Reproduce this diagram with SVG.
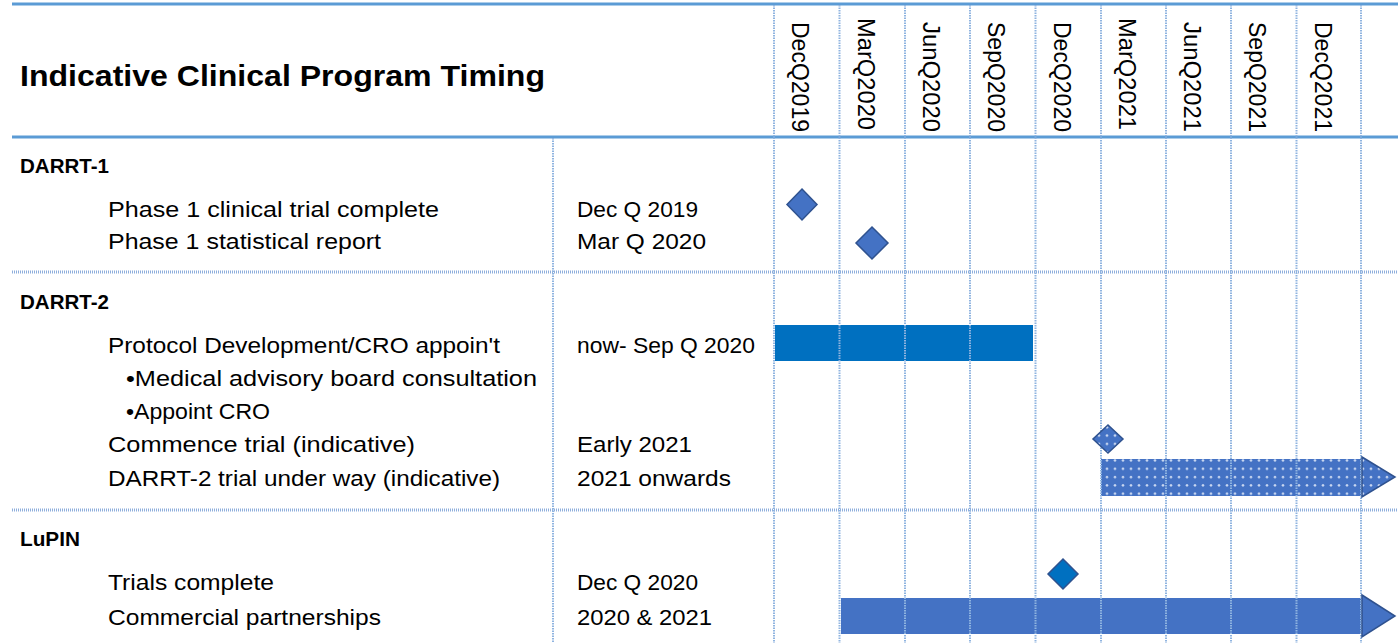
<svg xmlns="http://www.w3.org/2000/svg" width="1398" height="643" viewBox="0 0 1398 643">
<defs>
<style>
.t{font-family:"Liberation Sans",Arial,sans-serif;font-size:21.5px;fill:#000}
.b{font-family:"Liberation Sans",Arial,sans-serif;font-size:20px;font-weight:bold;fill:#000}
.title{font-family:"Liberation Sans",Arial,sans-serif;font-size:30px;font-weight:bold;fill:#000}
.hdr{font-family:"Liberation Sans",Arial,sans-serif;font-size:23px;fill:#000}
.solid{stroke:#5b9bd5;stroke-width:3}
.vline{stroke:#8fb4e0;stroke-width:2;stroke-dasharray:1.5 1}
.hsep{stroke:#8eaedc;stroke-width:3;stroke-dasharray:1 1}
.dia{stroke:#2f528f;stroke-width:1.5}
</style>
<pattern id="dots" width="8" height="8.3" patternUnits="userSpaceOnUse">
<rect width="8" height="8.3" fill="#4472c4"/>
<circle cx="3" cy="4" r="1.3" fill="#c9d7f0"/>
</pattern>
</defs>
<rect width="1398" height="643" fill="#fff"/>

<g id="bars">
<rect id="bar-protocol" x="775" y="325" width="258" height="36" fill="#0070c0"/>
<rect id="bar-darrt2-trial" x="1101" y="459" width="260" height="37" fill="url(#dots)"/>
<rect id="bar-commercial" x="841" y="598" width="520" height="36" fill="#4472c4"/>
</g>

<g id="connectors">
<line class="solid" x1="12" y1="4" x2="1398" y2="4"/>
<line class="solid" x1="12" y1="137" x2="1398" y2="137"/>
<line class="hsep" x1="12" y1="272" x2="1398" y2="272"/>
<line class="hsep" x1="12" y1="510" x2="1398" y2="510"/>
<line class="vline" x1="553" y1="138" x2="553" y2="643"/>
<line class="vline" x1="774" y1="5" x2="774" y2="643"/>
<line class="vline" x1="839.5" y1="5" x2="839.5" y2="643"/>
<line class="vline" x1="905" y1="5" x2="905" y2="643"/>
<line class="vline" x1="970" y1="5" x2="970" y2="643"/>
<line class="vline" x1="1035.5" y1="5" x2="1035.5" y2="643"/>
<line class="vline" x1="1101" y1="5" x2="1101" y2="643"/>
<line class="vline" x1="1166" y1="5" x2="1166" y2="643"/>
<line class="vline" x1="1231" y1="5" x2="1231" y2="643"/>
<line class="vline" x1="1296.5" y1="5" x2="1296.5" y2="643"/>
<line class="vline" x1="1361" y1="5" x2="1361" y2="643"/>
</g>

<g id="markers">
<polygon id="dia-ph1-complete" class="dia" fill="#4472c4" points="802,189 817,204.5 802,220 787,204.5"/>
<polygon id="dia-ph1-report" class="dia" fill="#4472c4" points="872,227 888,243 872,259 856,243"/>
<polygon id="dia-commence" class="dia" fill="url(#dots)" points="1108,425 1123,439 1108,453 1093,439"/>
<polygon id="arrow-darrt2" class="dia" fill="url(#dots)" points="1362,457 1395,477 1362,497"/>
<polygon id="dia-lupin" class="dia" fill="#0070c0" points="1063,559 1078,574 1063,589 1048,574"/>
<polygon id="arrow-commercial" class="dia" fill="#4472c4" points="1362,595 1395,616 1362,637"/>
</g>

<g id="header">
<text class="title" x="20" y="86" textLength="525" lengthAdjust="spacingAndGlyphs">Indicative Clinical Program Timing</text>
<text class="hdr" transform="translate(792,22) rotate(90)" textLength="110" lengthAdjust="spacingAndGlyphs">DecQ2019</text>
<text class="hdr" transform="translate(857.5,18) rotate(90)" textLength="112" lengthAdjust="spacingAndGlyphs">MarQ2020</text>
<text class="hdr" transform="translate(923,22) rotate(90)" textLength="110" lengthAdjust="spacingAndGlyphs">JunQ2020</text>
<text class="hdr" transform="translate(988,22) rotate(90)" textLength="110" lengthAdjust="spacingAndGlyphs">SepQ2020</text>
<text class="hdr" transform="translate(1053.5,22) rotate(90)" textLength="110" lengthAdjust="spacingAndGlyphs">DecQ2020</text>
<text class="hdr" transform="translate(1119,18) rotate(90)" textLength="112" lengthAdjust="spacingAndGlyphs">MarQ2021</text>
<text class="hdr" transform="translate(1184,22) rotate(90)" textLength="110" lengthAdjust="spacingAndGlyphs">JunQ2021</text>
<text class="hdr" transform="translate(1249,22) rotate(90)" textLength="110" lengthAdjust="spacingAndGlyphs">SepQ2021</text>
<text class="hdr" transform="translate(1314.5,22) rotate(90)" textLength="110" lengthAdjust="spacingAndGlyphs">DecQ2021</text>
</g>

<g id="darrt1">
<text class="b" x="20" y="173" textLength="89" lengthAdjust="spacingAndGlyphs">DARRT-1</text>
<text class="t" x="108" y="217" textLength="331" lengthAdjust="spacingAndGlyphs">Phase 1 clinical trial complete</text>
<text class="t" x="577" y="217" textLength="121" lengthAdjust="spacingAndGlyphs">Dec Q 2019</text>
<text class="t" x="108" y="249" textLength="273" lengthAdjust="spacingAndGlyphs">Phase 1 statistical report</text>
<text class="t" x="577" y="249" textLength="129" lengthAdjust="spacingAndGlyphs">Mar Q 2020</text>
</g>

<g id="darrt2">
<text class="b" x="20" y="309" textLength="89" lengthAdjust="spacingAndGlyphs">DARRT-2</text>
<text class="t" x="108" y="353" textLength="392" lengthAdjust="spacingAndGlyphs">Protocol Development/CRO appoin't</text>
<text class="t" x="577" y="353" textLength="178" lengthAdjust="spacingAndGlyphs">now- Sep Q 2020</text>
<text class="t" x="126" y="386" textLength="411" lengthAdjust="spacingAndGlyphs">•Medical advisory board consultation</text>
<text class="t" x="126" y="419" textLength="144" lengthAdjust="spacingAndGlyphs">•Appoint CRO</text>
<text class="t" x="108" y="452" textLength="307" lengthAdjust="spacingAndGlyphs">Commence trial (indicative)</text>
<text class="t" x="577" y="452" textLength="115" lengthAdjust="spacingAndGlyphs">Early 2021</text>
<text class="t" x="108" y="486" textLength="392" lengthAdjust="spacingAndGlyphs">DARRT-2 trial under way (indicative)</text>
<text class="t" x="577" y="486" textLength="154" lengthAdjust="spacingAndGlyphs">2021 onwards</text>
</g>

<g id="lupin">
<text class="b" x="20" y="546" textLength="60" lengthAdjust="spacingAndGlyphs">LuPIN</text>
<text class="t" x="108" y="590" textLength="166" lengthAdjust="spacingAndGlyphs">Trials complete</text>
<text class="t" x="577" y="590" textLength="121" lengthAdjust="spacingAndGlyphs">Dec Q 2020</text>
<text class="t" x="108" y="625" textLength="273" lengthAdjust="spacingAndGlyphs">Commercial partnerships</text>
<text class="t" x="577" y="625" textLength="135" lengthAdjust="spacingAndGlyphs">2020 &amp; 2021</text>
</g>
</svg>
